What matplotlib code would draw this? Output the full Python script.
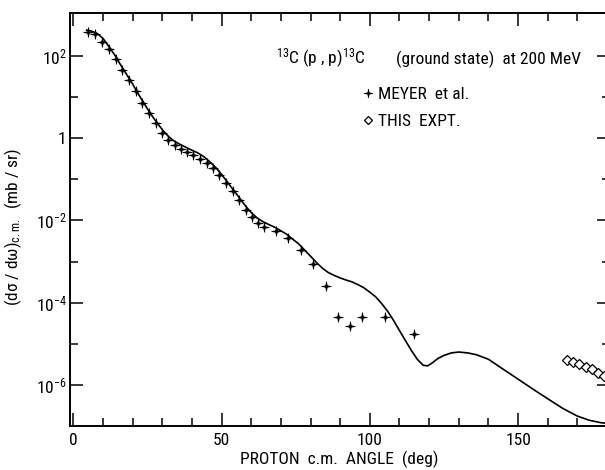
import matplotlib
matplotlib.use("Agg")
import matplotlib.pyplot as plt
from matplotlib.path import Path
from matplotlib.ticker import NullFormatter
from matplotlib import font_manager

# Narrow sans text throughout (first family found is used)
names = {f.name for f in font_manager.fontManager.ttflist}
family = [n for n in ["Liberation Sans Narrow", "Roboto Condensed", "Liberation Sans",
                      "DejaVu Sans"] if n in names]
plt.rcParams["font.family"] = family
plt.rcParams["mathtext.fontset"] = "custom"
plt.rcParams["mathtext.rm"] = family[0]
plt.rcParams["mathtext.it"] = family[0]
plt.rcParams["mathtext.default"] = "regular"

FS = 12.5

# Measured cross sections, Meyer et al. (deg, mb/sr)
meyer_angle = [5.1, 7.3, 9.8, 12.1, 14.3, 16.5, 18.9, 21.1, 23.1, 25.5, 27.8, 30.0,
               32.0, 34.3, 36.2, 38.4, 40.5, 42.7, 45.2, 47.2, 49.2, 51.5, 53.7, 56.0,
               58.2, 60.3, 62.4, 64.3, 68.3, 72.5, 76.8, 80.8, 85.2, 89.3, 93.3, 97.2,
               105.1, 115.0]
meyer_xsec = [3.9e2, 3.4e2, 2.2e2, 1.45e2, 85, 46, 26, 14, 7.2, 4.1, 2.3, 1.35,
              0.91, 0.68, 0.54, 0.46, 0.39, 0.32, 0.25, 0.19, 0.126, 0.083, 0.052, 0.032,
              0.018, 0.0123, 8.5e-3, 7.1e-3, 5.5e-3, 3.8e-3, 1.95e-3, 8.7e-4, 2.5e-4, 4.4e-5,
              2.75e-5, 4.6e-5, 4.5e-5, 1.75e-5]

# Backward-angle data, this experiment
expt_angle = [166.5, 168.6, 170.7, 172.8, 174.9, 177.0, 179.0]
expt_xsec = [4.0e-6, 3.55e-6, 3.2e-6, 2.8e-6, 2.4e-6, 2.0e-6, 1.6e-6]

# Calculated angular distribution
calc_angle = [4.5, 6, 8, 10, 12, 14, 16, 18, 20, 22, 24, 26, 28, 30, 32, 34, 36, 38, 40,
              42, 44, 46, 48, 50, 52, 54, 56, 58, 60, 62, 64, 66, 68, 70, 72, 74, 76, 78,
              80, 82, 84, 86, 88, 90, 92, 94, 96, 98, 100, 102, 104, 106, 108, 110, 112,
              114, 116, 118, 119.5, 121, 123, 125, 127.5, 130, 133, 136, 140, 145, 150,
              155, 160, 165, 170, 174, 178, 181]
calc_xsec = [427, 407, 355, 269, 170, 105, 60, 35.5, 20.9, 11.7, 6.8, 4.0, 2.5, 1.62,
             1.12, 0.85, 0.71, 0.60, 0.51, 0.44, 0.355, 0.27, 0.195, 0.132, 0.085, 0.055,
             0.0355, 0.0229, 0.0155, 0.0115, 9.3e-3, 7.9e-3, 6.8e-3, 5.6e-3, 4.6e-3,
             3.5e-3, 2.7e-3, 1.9e-3, 1.35e-3, 9.5e-4, 6.9e-4, 5.4e-4, 4.6e-4, 4.0e-4,
             3.55e-4, 3.2e-4, 2.75e-4, 2.3e-4, 1.8e-4, 1.38e-4, 9.5e-5, 6.2e-5, 3.7e-5,
             2.1e-5, 1.2e-5, 6.9e-6, 4.2e-6, 3.0e-6, 2.9e-6, 3.4e-6, 4.4e-6, 5.2e-6,
             6.0e-6, 6.3e-6, 6.0e-6, 5.4e-6, 4.2e-6, 2.4e-6, 1.38e-6, 7.9e-7, 4.6e-7,
             2.7e-7, 1.74e-7, 1.38e-7, 1.2e-7, 1.15e-7]

x_major = [0, 50, 100, 150]
y_major = [1e-6, 1e-4, 1e-2, 1, 1e2]
y_major_labels = ["10$^{-6}$", "10$^{-4}$", "10$^{-2}$", "1", "10$^{2}$"]
y_minor = [1e-5, 1e-3, 1e-1, 1e1]

W, H = 605, 470
fig = plt.figure(figsize=(W / 100, H / 100), dpi=100)
ax = fig.add_axes([69.5 / W, 44 / H, (610 - 69.5) / W, 413 / H])

# four-pointed star for the older data
s = 0.16
star = Path([(0, 1), (s, s), (1, 0), (s, -s), (0, -1), (-s, -s), (-1, 0), (-s, s), (0, 1)],
            [Path.MOVETO] + [Path.LINETO] * 7 + [Path.CLOSEPOLY])

ax.plot(calc_angle, calc_xsec, color="black", lw=1.2, label="_nolegend_")
ax.plot(meyer_angle, meyer_xsec, ls="none", marker=star, ms=7, mfc="black", mec="black",
        mew=0.5, label="MEYER  et al.")
ax.plot(expt_angle, expt_xsec, ls="none", marker="D", ms=5, mfc="white", mec="black",
        mew=0.9, label="THIS  EXPT.")

ax.set_yscale("log")
ax.set_xlim(-1.28, 181.0)
ax.set_ylim(1e-7, 10 ** 3.046)

ax.set_xticks(x_major)
ax.set_xticks([v for v in range(10, 181, 10) if v % 50], minor=True)
ax.set_yticks(y_major, labels=y_major_labels)
ax.set_yticks(y_minor, minor=True)
ax.yaxis.set_minor_formatter(NullFormatter())

ax.tick_params(which="both", direction="in", top=True, right=True, width=1.1,
               labelsize=FS, colors="black")
ax.tick_params(which="major", length=9.5)
ax.tick_params(axis="x", which="major", pad=5)
ax.tick_params(axis="y", which="major", pad=2)
ax.tick_params(which="minor", length=6)
for sp in ax.spines.values():
    sp.set_linewidth(1.4)

ax.set_xlabel("PROTON  c.m.  ANGLE  (deg)", fontsize=FS, labelpad=2)
ax.set_ylabel("(dσ / dω)$_{c.m.}$  (mb / sr)", fontsize=FS)
ax.yaxis.set_label_coords(-0.085, 0.482)

fig.text(276.5 / W, 1 - 64 / H, "$^{13}$C (p , p)$^{13}$C", fontsize=FS,
         ha="left", va="baseline")
fig.text(396.5 / W, 1 - 64 / H, "(ground state)  at 200 MeV", fontsize=FS,
         ha="left", va="baseline")

leg = ax.legend(loc="upper left", bbox_to_anchor=(362 / W, 1 - 87 / H),
                bbox_transform=fig.transFigure, frameon=False, fontsize=FS,
                handlelength=0.7, handletextpad=0.2, labelspacing=0.7,
                borderpad=0, borderaxespad=0, markerscale=0.9)

fig.savefig("out.png", dpi=100)
